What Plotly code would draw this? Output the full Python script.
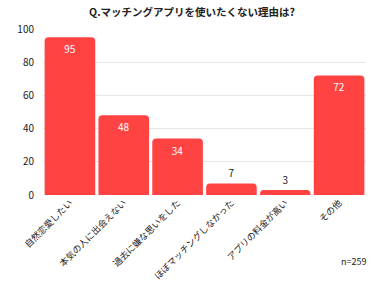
import plotly.graph_objects as go

categories = ["自然恋愛したい", "本気の人に出会えない", "過去に嫌な思いをした", "ほぼマッチングしなかった", "アプリの料金が高い", "その他"]
values = [95, 48, 34, 7, 3, 72]
title = "Q.マッチングアプリを使いたくない理由は?"
note = "n=259"

FONT = "Noto Sans CJK JP"
positions = ["inside" if v >= 20 else "outside" for v in values]
text_colors = ["white" if v >= 20 else "#222222" for v in values]

fig = go.Figure(go.Bar(
    x=categories, y=values,
    marker=dict(color="#ff4343", line=dict(width=0)),
    text=[str(v) for v in values],
    textposition=positions,
    insidetextanchor="end",
    textfont=dict(family=FONT, size=10, color=text_colors),
    cliponaxis=False,
))
fig.update_layout(
    width=384, height=284,
    margin=dict(l=43, r=18, t=29, b=89, autoexpand=False),
    paper_bgcolor="white", plot_bgcolor="white",
    bargap=0.06,
    barcornerradius=4,
    showlegend=False,
    title=dict(text=title, x=0.5, xanchor="center", y=0.955, yanchor="middle",
               font=dict(family=FONT, size=10.5, color="#222222", weight="bold")),
    font=dict(family=FONT, color="#222222"),
)
fig.update_yaxes(range=[0, 100], dtick=20, showgrid=True, gridcolor="#e6e6e6", gridwidth=1,
                 zeroline=False, showline=False, ticks="", tickfont=dict(size=10, color="#222222"),
                 automargin=False, ticklabelstandoff=8)
fig.update_xaxes(tickangle=-45, showline=False, ticks="", tickfont=dict(size=9, color="#222222"),
                 automargin=False)
fig.add_annotation(text=note, xref="paper", yref="paper", x=1.005, y=-0.40, xanchor="right",
                   yanchor="middle", showarrow=False, font=dict(family=FONT, size=9, color="#222222"))
fig.write_html("out.html")
